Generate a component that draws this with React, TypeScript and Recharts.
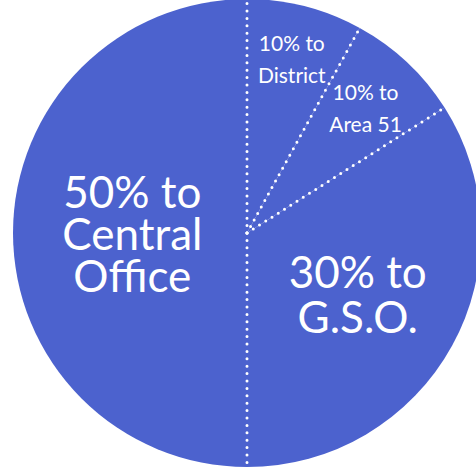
import { PieChart, Pie, Cell } from "recharts";

// share of each slice (clockwise from 12 o'clock)
const names = ["District", "Area 51", "G.S.O.", "Central Office"];
const shares = [8, 8, 34, 50];
const labelLines = [
  ["10% to", "District"],
  ["10% to", "Area 51"],
  ["30% to", "G.S.O."],
  ["50% to", "Central", "Office"],
];

// label placement, as a fraction of the radius
const labelRadius = [0.77, 0.74, 0.54, 0.49];
const labelSize = [21, 21, 44, 44];
const labelGap = [32, 32, 45, 42];

const data = names.map((name, i) => ({ name, value: shares[i] }));

const BLUE = "#4c62ce";
const RAD = Math.PI / 180;

const renderLabel = (props: any) => {
  const { cx, cy, outerRadius, midAngle, startAngle, index } = props;
  const r = outerRadius * labelRadius[index];
  const x = cx + r * Math.cos(-midAngle * RAD);
  const y = cy + r * Math.sin(-midAngle * RAD);
  const lines = labelLines[index];
  const size = labelSize[index];
  const gap = labelGap[index];
  const top = y - ((lines.length - 1) * gap) / 2;
  const ex = cx + outerRadius * Math.cos(-startAngle * RAD);
  const ey = cy + outerRadius * Math.sin(-startAngle * RAD);
  return (
    <g>
      <line
        x1={cx}
        y1={cy}
        x2={ex}
        y2={ey}
        stroke="#fff"
        strokeWidth={3}
        strokeDasharray="0 7.4"
        strokeLinecap="round"
      />
      <text
        x={x}
        y={top}
        fill="#fff"
        textAnchor="middle"
        dominantBaseline="central"
        fontSize={size}
        fontFamily="Lato, sans-serif"
      >
        {lines.map((t, k) => (
          <tspan key={k} x={x} dy={k === 0 ? 0 : gap}>
            {t}
          </tspan>
        ))}
      </text>
    </g>
  );
};

export default function App() {
  return (
    <div style={{ position: "absolute", left: 0, top: 0 }}>
      <PieChart
        width={476}
        height={471}
        margin={{ top: 0, right: 0, bottom: 0, left: 0 }}
      >
        <Pie
          data={data}
          dataKey="value"
          nameKey="name"
          cx={247}
          cy={233}
          outerRadius={234}
          startAngle={90}
          endAngle={-270}
          stroke="none"
          label={renderLabel}
          labelLine={false}
          isAnimationActive={false}
        >
          {data.map((d) => (
            <Cell key={d.name} fill={BLUE} />
          ))}
        </Pie>
      </PieChart>
    </div>
  );
}
